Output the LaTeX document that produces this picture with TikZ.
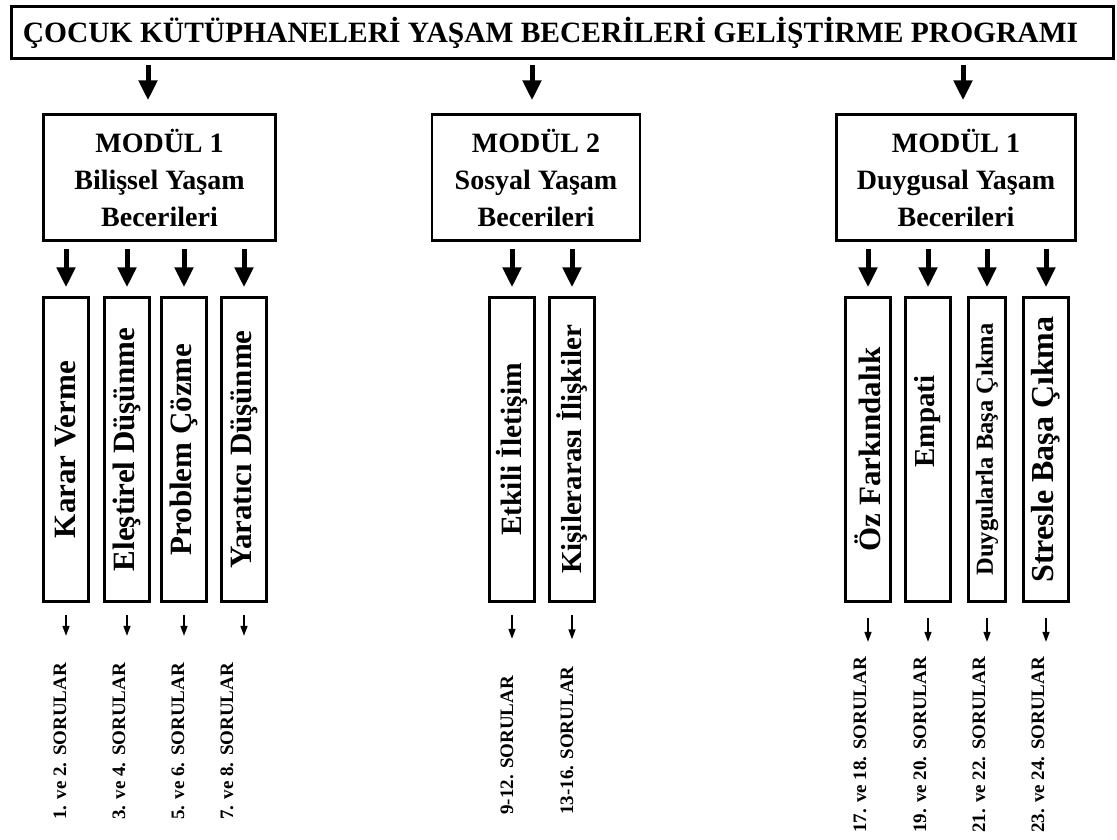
\documentclass[tikz,border=0pt]{standalone}
\usepackage{fontspec}
\setmainfont{Liberation Serif}
\usetikzlibrary{arrows.meta}

\tikzset{
  box/.style={draw, line width=2.5pt, inner sep=0pt, align=center},
  modbox/.style={box, minimum height=126pt, font=\fontsize{28}{37}\selectfont\bfseries},
  skillbox/.style={box, rotate=90, minimum width=304pt, minimum height=45pt, font=\fontsize{31}{36}\selectfont\bfseries},
  qlabel/.style={rotate=90, anchor=west, inner sep=0pt, font=\fontsize{19}{22}\selectfont\bfseries},
  bigarr/.style={line width=5pt, -{Triangle[width=18pt,length=20pt]}},
  smallarr/.style={line width=1.5pt, -{Triangle[width=7pt,length=10pt]}},
}

\begin{document}
\begin{tikzpicture}[x=1pt,y=-1pt]
\useasboundingbox (0,0) rectangle (1117,839);

% title
\node[box, minimum width=1102pt, minimum height=52pt, font=\fontsize{29.5}{35}\selectfont\bfseries]
  (title) at (562.5,32.5) {ÇOCUK KÜTÜPHANELERİ YAŞAM BECERİLERİ GELİŞTİRME PROGRAMI\hspace*{24pt}};

% modules
\node[modbox, minimum width=232pt] (m1) at (159.5,177.5) {MODÜL 1\\Bilişsel Yaşam\\Becerileri};
\node[modbox, minimum width=208pt] (m2) at (536,177.5) {MODÜL 2\\Sosyal Yaşam\\Becerileri};
\node[modbox, minimum width=239pt] (m3) at (956,177.5) {MODÜL 1\\Duygusal Yaşam\\Becerileri};

\draw[bigarr, shorten <=5pt, shorten >=13pt] (title.south -| 148,0) -- (m1.north -| 148,0);
\draw[bigarr, shorten <=5pt, shorten >=13pt] (title.south -| 532,0) -- (m2.north -| 532,0);
\draw[bigarr, shorten <=5pt, shorten >=13pt] (title.south -| 963,0) -- (m3.north -| 963,0);

% skills
\node[skillbox] (s1) at (66,449.5) {Karar Verme};
\node[skillbox] (s2) at (127,449.5) {Eleştirel Düşünme};
\node[skillbox] (s3) at (184,449.5) {Problem Çözme};
\node[skillbox] (s4) at (244,449.5) {Yaratıcı Düşünme};
\node[skillbox, font=\fontsize{29.5}{34}\selectfont\bfseries] (s5) at (512,449.5) {Etkili İletişim};
\node[skillbox, font=\fontsize{29}{34}\selectfont\bfseries] (s6) at (572,449.5) {Kişilerarası İlişkiler};
\node[skillbox] (s7) at (868,449.5) {Öz Farkındalık};
\node[skillbox, font=\fontsize{29}{34}\selectfont\bfseries] (s8) at (928,449.5) {\hspace*{56pt}Empati};
\node[skillbox, minimum height=37pt, font=\fontsize{24.5}{28}\selectfont\bfseries] (s9) at (987,449.5) {Duygularla Başa Çıkma};
\node[skillbox, font=\fontsize{32}{36}\selectfont\bfseries] (s10) at (1046,449.5) {Stresle Başa Çıkma};

\foreach \m/\s in {m1/s1,m1/s2,m1/s3,m1/s4,m2/s5,m2/s6,m3/s7,m3/s8,m3/s9,m3/s10}
  \draw[bigarr, shorten <=7pt, shorten >=9pt] (\m.south -| \s.east) -- (\s.east);

% question numbers
\node[qlabel] (q1) at (60,820) {1. ve 2. SORULAR};
\node[qlabel] (q2) at (119,820) {3. ve 4. SORULAR};
\node[qlabel] (q3) at (178,820) {5. ve 6. SORULAR};
\node[qlabel] (q4) at (227,820) {7. ve 8. SORULAR};
\node[qlabel] (q5) at (507,815) {9-12. SORULAR};
\node[qlabel] (q6) at (567,815) {13-16. SORULAR};
\node[qlabel] (q7) at (860,833) {17. ve 18. SORULAR};
\node[qlabel] (q8) at (920,833) {19. ve 20. SORULAR};
\node[qlabel] (q9) at (979,833) {21. ve 22. SORULAR};
\node[qlabel] (q10) at (1038,833) {23. ve 24. SORULAR};

\foreach \s/\q/\a/\b in {s1/q1/12/27, s2/q2/12/27, s3/q3/12/27, s4/q4/12/27,
                         s5/q5/12/37, s6/q6/12/27,
                         s7/q7/15/15, s8/q8/15/15, s9/q9/15/15, s10/q10/15/15}
  \draw[smallarr, shorten <=\a pt, shorten >=\b pt] (\s.west) -- (\s.west |- \q.east);
\end{tikzpicture}
\end{document}
